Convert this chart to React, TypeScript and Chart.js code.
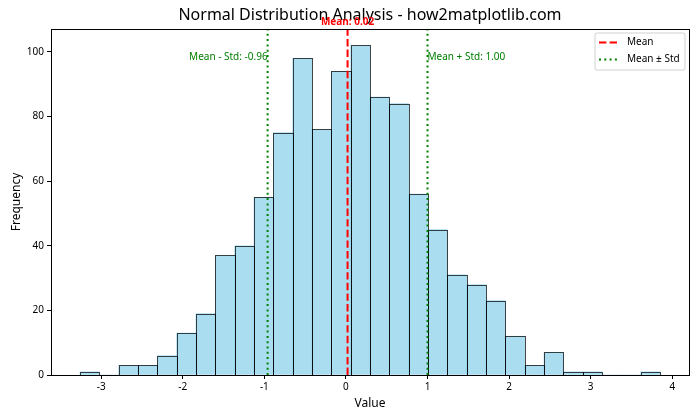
import React, { useEffect, useRef } from "react";
import { Chart, registerables } from "chart.js";

Chart.register(...registerables);

// ---- data ----
const binEdges = [
  -3.26, -3.023, -2.786, -2.549, -2.312, -2.075, -1.838, -1.601, -1.364, -1.127,
  -0.89, -0.653, -0.416, -0.179, 0.058, 0.295, 0.532, 0.769, 1.006, 1.243,
  1.48, 1.717, 1.954, 2.191, 2.428, 2.665, 2.902, 3.139, 3.376, 3.613, 3.85,
];
const binCounts = [
  1, 0, 3, 3, 6, 13, 19, 37, 40, 55,
  75, 98, 76, 94, 102, 86, 84, 56, 45, 31,
  28, 23, 12, 3, 7, 1, 1, 0, 0, 1,
];
const meanValue = 0.02;
const stdValue = 0.98;
const xTicks = [-3, -2, -1, 0, 1, 2, 3, 4];
const yTicks = [0, 20, 40, 60, 80, 100];
const xLimits = [-3.615, 4.205];
const yLimits = [0, 107.1];
const titleText = "Normal Distribution Analysis - how2matplotlib.com";
const xLabel = "Value";
const yLabel = "Frequency";
const legendLabels = ["Mean", "Mean ± Std"];

const FONT = "'Noto Sans', 'DejaVu Sans', sans-serif";

export default function App() {
  const ref = useRef<HTMLCanvasElement | null>(null);

  useEffect(() => {
    const canvas = ref.current;
    if (!canvas) return;

    const barData = binCounts.map((c, i) => ({
      x: (binEdges[i] + binEdges[i + 1]) / 2,
      y: c,
    }));
    const low = meanValue - stdValue;
    const high = meanValue + stdValue;

    // outline each bar element (geometry from Chart.js) with a 1px edge
    const barEdges = {
      id: "barEdges",
      afterDatasetDraw(chart: any, args: any) {
        const meta = args.meta;
        if (meta.type !== "bar") return;
        const ctx = chart.ctx as CanvasRenderingContext2D;
        ctx.save();
        ctx.strokeStyle = "rgba(0,0,0,0.72)";
        ctx.lineWidth = 1;
        meta.data.forEach((el: any, i: number) => {
          if (!binCounts[i]) return;
          const l = Math.round(el.x - el.width / 2) + 0.5;
          const r = Math.round(el.x + el.width / 2) + 0.5;
          const t = Math.round(el.y) + 0.5;
          const b = Math.round(el.base) + 0.5;
          ctx.strokeRect(l, t, r - l, b - t);
        });
        ctx.restore();
      },
    };

    const overlay = {
      id: "overlay",
      afterDraw(chart: any) {
        const ctx = chart.ctx as CanvasRenderingContext2D;
        const { left, right, top, bottom } = chart.chartArea;
        const xs = chart.scales.x;
        const ys = chart.scales.y;
        ctx.save();
        // frame
        ctx.strokeStyle = "#000";
        ctx.lineWidth = 1;
        ctx.strokeRect(Math.round(left) + 0.5, Math.round(top) + 0.5, Math.round(right - left), Math.round(bottom - top));
        // title
        ctx.fillStyle = "#000";
        ctx.font = `16px ${FONT}`;
        ctx.textAlign = "center";
        ctx.textBaseline = "middle";
        ctx.fillText(titleText, (left + right) / 2, 15);
        // annotations
        ctx.font = `10px ${FONT}`;
        ctx.fillStyle = "#008000";
        const yAnn = ys.getPixelForValue(yLimits[1] * 0.92);
        ctx.textAlign = "right";
        ctx.fillText(`Mean - Std: ${low.toFixed(2)}`, xs.getPixelForValue(low), yAnn);
        ctx.textAlign = "left";
        ctx.fillText(`Mean + Std: ${high.toFixed(2)}`, xs.getPixelForValue(high), yAnn);
        ctx.fillStyle = "#ff0000";
        ctx.font = `bold 10px ${FONT}`;
        ctx.textAlign = "center";
        ctx.fillText(`Mean: ${meanValue.toFixed(2)}`, xs.getPixelForValue(meanValue), ys.getPixelForValue(yLimits[1] * 1.02));
        // legend
        const lx = right - 94;
        const ly = top + 4;
        const lw = 90;
        const lh = 37;
        ctx.fillStyle = "rgba(255,255,255,0.8)";
        ctx.strokeStyle = "#d0d0d0";
        ctx.lineWidth = 1;
        ctx.beginPath();
        const r = 2;
        ctx.moveTo(lx + r, ly);
        ctx.arcTo(lx + lw, ly, lx + lw, ly + lh, r);
        ctx.arcTo(lx + lw, ly + lh, lx, ly + lh, r);
        ctx.arcTo(lx, ly + lh, lx, ly, r);
        ctx.arcTo(lx, ly, lx + lw, ly, r);
        ctx.closePath();
        ctx.fill();
        ctx.stroke();
        const rows = [
          { color: "#ff0000", dash: [7.4, 3.2], label: legendLabels[0] },
          { color: "#008000", dash: [2, 3.3], label: legendLabels[1] },
        ];
        rows.forEach((row, i) => {
          const yy = ly + 9.5 + i * 17;
          ctx.strokeStyle = row.color;
          ctx.lineWidth = 2;
          ctx.setLineDash(row.dash);
          ctx.beginPath();
          ctx.moveTo(lx + 4, yy);
          ctx.lineTo(lx + 24, yy);
          ctx.stroke();
          ctx.setLineDash([]);
          ctx.fillStyle = "#000";
          ctx.font = `10px ${FONT}`;
          ctx.textAlign = "left";
          ctx.textBaseline = "middle";
          ctx.fillText(row.label, lx + 32, yy);
        });
        ctx.restore();
      },
    };

    const chart = new Chart(canvas, {
      type: "bar",
      data: {
        datasets: [
          {
            type: "line",
            label: "Mean",
            data: [
              { x: meanValue, y: yLimits[0] },
              { x: meanValue, y: yLimits[1] },
            ],
            borderColor: "#ff0000",
            borderWidth: 2,
            borderDash: [7.4, 3.2],
            pointRadius: 0,
            fill: false,
            order: 1,
          } as any,
          {
            type: "line",
            label: "Mean - Std",
            data: [
              { x: low, y: yLimits[0] },
              { x: low, y: yLimits[1] },
            ],
            borderColor: "#008000",
            borderWidth: 2,
            borderDash: [2, 3.3],
            pointRadius: 0,
            fill: false,
            order: 1,
          } as any,
          {
            type: "line",
            label: "Mean + Std",
            data: [
              { x: high, y: yLimits[0] },
              { x: high, y: yLimits[1] },
            ],
            borderColor: "#008000",
            borderWidth: 2,
            borderDash: [2, 3.3],
            pointRadius: 0,
            fill: false,
            order: 1,
          } as any,
          {
            type: "bar",
            label: "Histogram",
            data: barData as any,
            backgroundColor: "rgba(135,206,235,0.7)",
            borderWidth: 0,
            barPercentage: 1,
            categoryPercentage: 1,
            order: 2,
          } as any,
        ],
      },
      options: {
        responsive: false,
        animation: false,
        events: [],
        layout: { padding: { left: 0, right: 11, top: 29, bottom: 0 } },
        plugins: {
          legend: { display: false },
          tooltip: { enabled: false },
          title: { display: false },
        },
        scales: {
          x: {
            type: "linear",
            min: xLimits[0],
            max: xLimits[1],
            offset: false,
            afterBuildTicks: (s: any) => {
              s.ticks = xTicks.map((v) => ({ value: v }));
            },
            afterFit: (s: any) => {
              s.height = 45;
            },
            grid: {
              display: true,
              offset: false,
              drawOnChartArea: false,
              drawTicks: true,
              tickLength: 4,
              color: "#000",
            },
            border: { display: true, color: "#000" },
            ticks: {
              color: "#000",
              font: { family: FONT, size: 10 },
              padding: 2,
              maxRotation: 0,
              autoSkip: false,
            },
            title: {
              display: true,
              text: xLabel,
              color: "#000",
              font: { family: FONT, size: 12 },
              padding: { top: 0, bottom: 9 },
            },
          },
          y: {
            type: "linear",
            min: yLimits[0],
            max: yLimits[1],
            afterBuildTicks: (s: any) => {
              s.ticks = yTicks.map((v) => ({ value: v }));
            },
            afterFit: (s: any) => {
              s.width = 51;
            },
            grid: {
              display: true,
              drawOnChartArea: false,
              drawTicks: true,
              tickLength: 4,
              color: "#000",
            },
            border: { display: true, color: "#000" },
            ticks: {
              color: "#000",
              font: { family: FONT, size: 10 },
              padding: 3,
              autoSkip: false,
            },
            title: {
              display: true,
              text: yLabel,
              color: "#000",
              font: { family: FONT, size: 12 },
              padding: { top: 9, bottom: 0 },
            },
          },
        },
      },
      plugins: [barEdges, overlay],
    });

    return () => chart.destroy();
  }, []);

  return (
    <div style={{ position: "absolute", left: 0, top: 0, width: 700, height: 420, background: "#fff" }}>
      <canvas ref={ref} width={700} height={420} />
    </div>
  );
}
